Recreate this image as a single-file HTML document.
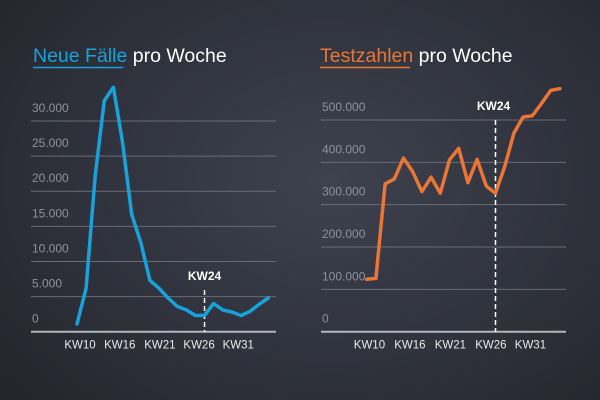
<!DOCTYPE html>
<html><head><meta charset="utf-8"><style>
html,body{margin:0;padding:0;width:600px;height:400px;overflow:hidden}
body{background:radial-gradient(ellipse 70% 80% at 55% 45%,#3e424e 0%,#30333d 55%,#24262e 100%);font-family:"Liberation Sans",sans-serif}
svg{position:absolute;left:0;top:0}
</style></head><body>
<svg id="c" width="600" height="400"></svg>
<script>
const weeks = ["KW10","KW16","KW21","KW26","KW31"];
const leftLabelIdx = [0.33,4.7,9.1,13.4,17.7];
const rightLabelIdx = [0.3,4.7,9.1,13.5,17.8];
const casesValues = [1100,6200,22200,32900,34800,27000,16700,12700,7300,6200,4800,3600,3100,2300,2300,4000,3100,2800,2300,2900,3900,4800];
const testValues = [124000,126000,349000,361000,410000,378000,331000,365000,327000,406000,433000,352000,407000,344000,327000,390000,469000,507000,510000,539000,570000,574000];
const casesTicks = [0,5000,10000,15000,20000,25000,30000];
const casesTickLabels = ["0","5.000","10.000","15.000","20.000","25.000","30.000"];
const testTicks = [0,100000,200000,300000,400000,500000];
const testTickLabels = ["0","100.000","200.000","300.000","400.000","500.000"];
const markerIdx = 14;
const markerLabel = "KW24";

const NS="http://www.w3.org/2000/svg";
const svg=document.getElementById('c');
function mk(tag,attrs,parent){const e=document.createElementNS(NS,tag);for(const k in attrs)e.setAttribute(k,attrs[k]);(parent||svg).appendChild(e);return e;}

function drawChart(cfg){
  const g=mk('g',{});
  
  
  const y=v=>cfg.y0-(v/cfg.vmax)*(cfg.y0-cfg.yTop);
  const x=i=>cfg.x0+i*cfg.step;
  const t=mk('text',{x:cfg.tx,y:62,'font-size':19.5,fill:'#fff'},g);
  
  
  const s1=mk('tspan',{fill:cfg.color},t);s1.textContent=cfg.t1;
  const s2=mk('tspan',{},t);s2.textContent=' pro Woche';
  const ul=mk('line',{x1:cfg.tx,x2:cfg.tx+cfg.ulw,y1:67.5,y2:67.5,stroke:cfg.color,'stroke-width':1.5},g);
  
  
  cfg.ticks.forEach((v,i)=>{
    if(v>0){const l=mk('line',{x1:cfg.ax1,x2:cfg.ax2,y1:y(v),y2:y(v),stroke:'#686c76','stroke-width':1},g);
      
      }
    const tl=mk('text',{x:cfg.ax1+1,y:y(v)-9,'font-size':12,fill:'#8e919a'},g);
    
    
    tl.textContent=cfg.tickLabels[i];
  });
  const b=mk('line',{x1:cfg.ax1,x2:cfg.ax2,y1:cfg.y0,y2:cfg.y0,stroke:'#b4b6bb','stroke-width':2},g);
  
  
  weeks.forEach((w,i)=>{
    const xl=mk('text',{x:x(cfg.labelIdx[i]),y:cfg.y0+17,'font-size':11.5,fill:'#e8e9ec','text-anchor':'middle'},g);
    
    
    xl.textContent=w;
  });
  const mx=x(markerIdx);
  const ml=mk('line',{x1:mx,x2:mx,y1:cfg.mTop,y2:cfg.y0,stroke:'#fff','stroke-width':1.5,'stroke-dasharray':'5,3'},g);
  
  
  const mt=mk('text',{x:mx+cfg.mdx,y:cfg.mTop-10,'font-size':12,'font-weight':'bold',fill:'#fff','text-anchor':'middle'},g);
  
  
  mt.textContent=markerLabel;
  const pts=cfg.values.map((v,i)=>x(i).toFixed(1)+','+y(v).toFixed(1)).join(' ');
  const pl=mk('polyline',{points:pts,fill:'none',stroke:cfg.color,'stroke-width':3.5,'stroke-linejoin':'round','stroke-linecap':'round'},g);
  
  
}
drawChart({name:'cases-chart',t1:'Neue Fälle',tx:33,ulw:90,color:'#18a2dc',values:casesValues,ticks:casesTicks,tickLabels:casesTickLabels,
  vmax:30000,y0:331.7,yTop:121,x0:77,step:9.11,ax1:31,ax2:276,labelIdx:leftLabelIdx,mTop:290,mdx:0});
drawChart({name:'tests-chart',t1:'Testzahlen',tx:320,ulw:90,color:'#ea7535',values:testValues,ticks:testTicks,tickLabels:testTickLabels,
  vmax:500000,y0:331.7,yTop:120,x0:366.7,step:9.2,ax1:321,ax2:566,labelIdx:rightLabelIdx,mTop:120,mdx:-2});
</script>
</body></html>
